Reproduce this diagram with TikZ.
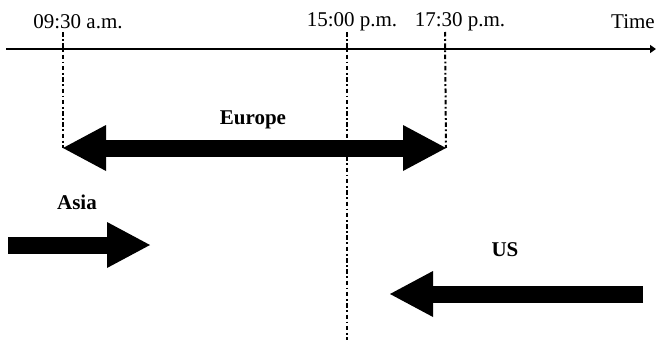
\documentclass[tikz,border=0pt]{standalone}
\usepackage{fontspec}
\setmainfont{Liberation Serif}
\usetikzlibrary{arrows.meta, positioning}

\begin{document}
\begin{tikzpicture}[x=1pt, y=-1pt,
        lbl/.style={font=\fontsize{21}{25}\selectfont, inner sep=0pt},
        region/.style={font=\fontsize{21}{25}\selectfont\bfseries, inner sep=0pt},
        marker/.style={line width=2pt, dash pattern=on 4.5pt off 2.5pt on 1.8pt off 2.5pt},
        axis/.style={line width=2.6pt, -{Triangle[length=6pt, width=8pt]}},
        block/.style={line width=17pt, -{Triangle[length=43pt, width=46pt, line width=0pt]}},
        dblock/.style={line width=17pt, {Triangle[length=43pt, width=46pt, line width=0pt]}-{Triangle[length=43pt, width=46pt, line width=0pt]}}
    ]
    \useasboundingbox (0,0) rectangle (656,340);

    % Time axis
    \coordinate (t0) at (6,49);
    \coordinate (t1) at (656,49);
    \draw[axis] (t0) -- (t1);

    % Time labels
    \node[lbl] (lam) at (78,22) {09:30 a.m.};
    \node[lbl] (lmid) at (352,22) {15:00 p.m.};
    \node[lbl] (lpm) at (460,22) {17:30 p.m.};
    \node[lbl, anchor=east] (ltime) at (655,22) {Time};

    % Markers
    \coordinate (m1top) at (63,32);
    \coordinate (m2top) at (347,32);
    \coordinate (m3top) at (445,32);
    \coordinate (m2bot) at (347,340);

    % Europe
    \coordinate (eu1) at (63,148);
    \coordinate (eu2) at (446,148);
    \draw[dblock] (eu1) -- (eu2);
    \node[region] (europe) at (253,120) {Europe};

    % Asia
    \coordinate (as1) at (8,245);
    \coordinate (as2) at (150,245);
    \draw[block] (as1) -- (as2);
    \node[region] (asia) at (77,202) {Asia};

    % US
    \coordinate (us1) at (643,294);
    \coordinate (us2) at (390,294);
    \draw[block] (us1) -- (us2);
    \node[region] (us) at (505,250) {US};

    % Dash-dot lines
    \draw[marker] (m1top) -- (eu1);
    \draw[marker] (m2top) -- (m2bot);
    \draw[marker] (m3top) -- (eu2);

\end{tikzpicture}
\end{document}
